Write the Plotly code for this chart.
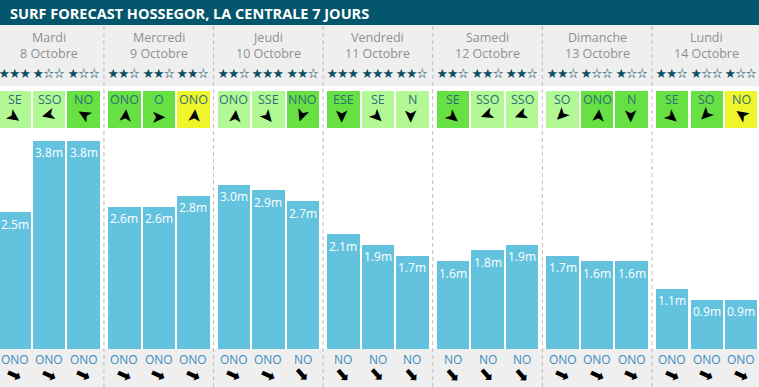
import plotly.graph_objects as go

# ---------------- data ----------------
days = ["Mardi", "Mercredi", "Jeudi", "Vendredi", "Samedi", "Dimanche", "Lundi"]
dates = ["8 Octobre", "9 Octobre", "10 Octobre", "11 Octobre", "12 Octobre", "13 Octobre", "14 Octobre"]
wave_height = [2.5, 3.8, 3.8, 2.6, 2.6, 2.8, 3.0, 2.9, 2.7, 2.1, 1.9, 1.7,
               1.6, 1.8, 1.9, 1.7, 1.6, 1.6, 1.1, 0.9, 0.9]
stars = [3, 1, 1, 2, 2, 2, 2, 3, 2, 3, 3, 2, 2, 2, 2, 2, 1, 1, 2, 1, 1]
wind_dir = ["SE", "SSO", "NO", "ONO", "O", "ONO", "ONO", "SSE", "NNO", "ESE", "SE", "N",
            "SE", "SSO", "SSO", "SO", "ONO", "N", "SE", "SO", "NO"]
wind_level = [0, 0, 1, 1, 1, 2, 0, 0, 1, 1, 0, 0, 1, 0, 0, 0, 1, 1, 1, 1, 2]
wind_arrow_deg = [35, 165, 210, 275, 0, 275, 275, 50, 110, 90, 45, 90,
                  40, 160, 160, 135, 275, 90, 40, 135, 215]
swell_dir = ["ONO", "ONO", "ONO", "ONO", "ONO", "ONO", "ONO", "ONO", "NO", "NO", "NO", "NO",
             "NO", "NO", "NO", "ONO", "ONO", "ONO", "ONO", "ONO", "ONO"]
swell_arrow_deg = {"ONO": 25, "NO": 48}
title = "SURF FORECAST HOSSEGOR, LA CENTRALE 7 JOURS"

# ---------------- styles ----------------
W, H = 759, 387
level_colors = ["#b2f996", "#66e042", "#eef52a"]
bar_color = "#63c3df"
teal = "#03566b"
gray_bg = "#efefef"

def py(px):  # pixel row -> paper fraction
    return (H - px) / H

step = 0.3148
bar_w = 0.2965
xs = []
for k in range(len(days)):
    for j in range(3):
        xs.append(k + (j - 1) * step)

fig = go.Figure()

fig.add_trace(go.Bar(
    x=xs, y=wave_height, width=bar_w, marker=dict(color=bar_color, line=dict(width=0)),
    xaxis="x", yaxis="y", hoverinfo="skip", showlegend=False))

fig.add_trace(go.Bar(
    x=xs, y=[1] * len(xs), width=bar_w,
    marker=dict(color=[level_colors[l] for l in wind_level], line=dict(width=0)),
    xaxis="x", yaxis="y2", hoverinfo="skip", showlegend=False))

shapes = [
    dict(type="rect", xref="paper", yref="paper", x0=0, x1=1, y0=py(25), y1=1,
         fillcolor=teal, line=dict(width=0), layer="below"),
    dict(type="rect", xref="paper", yref="paper", x0=0, x1=1, y0=py(86), y1=py(25),
         fillcolor=gray_bg, line=dict(width=0), layer="below"),
    dict(type="rect", xref="paper", yref="paper", x0=0, x1=1, y0=0, y1=py(349),
         fillcolor=gray_bg, line=dict(width=0), layer="below"),
]
for k in range(len(days) - 1):
    shapes.append(dict(type="line", xref="x", yref="paper", x0=k + 0.5, x1=k + 0.5,
                       y0=0, y1=py(25), line=dict(color="#bcbcbc", width=1, dash="4px,3px"),
                       layer="above"))

ann = []
ann.append(dict(text="<b>" + title + "</b>", xref="paper", yref="paper", x=0, y=py(13),
                xanchor="left", yanchor="middle", xshift=8, showarrow=False,
                font=dict(family="Open Sans", size=14.5, color="white")))
for k in range(len(days)):
    ann.append(dict(text=days[k], xref="x", yref="paper", x=k, y=py(38), showarrow=False,
                    xanchor="center", yanchor="middle",
                    font=dict(family="Open Sans", size=12.5, color="#8f8f8f")))
    ann.append(dict(text=dates[k], xref="x", yref="paper", x=k, y=py(53.5), showarrow=False,
                    xanchor="center", yanchor="middle",
                    font=dict(family="Open Sans", size=12.5, color="#8f8f8f")))

for i, x in enumerate(xs):
    s = "★" * stars[i] + "☆" * (3 - stars[i])
    ann.append(dict(text=s, xref="x", yref="paper", x=x, y=py(72), showarrow=False,
                    xanchor="center", yanchor="middle",
                    font=dict(family="Noto Sans CJK JP", size=10.5, color="#0b4d63")))
    ann.append(dict(text=wind_dir[i], xref="x", yref="paper", x=x, y=py(100), showarrow=False,
                    xanchor="center", yanchor="middle",
                    font=dict(family="Open Sans", size=12.5, color="#2e6f78")))
    ann.append(dict(text="➤", xref="x", yref="paper", x=x, y=py(116), showarrow=False,
                    xanchor="center", yanchor="middle", textangle=wind_arrow_deg[i],
                    font=dict(family="DejaVu Sans", size=18, color="black")))
    ann.append(dict(text=f"{wave_height[i]:.1f}m", xref="x", yref="y", x=x, y=wave_height[i],
                    showarrow=False, xanchor="center", yanchor="top", yshift=-1.5,
                    font=dict(family="Open Sans", size=12, color="white")))
    ann.append(dict(text=swell_dir[i], xref="x", yref="paper", x=x, y=py(359), showarrow=False,
                    xanchor="center", yanchor="middle",
                    font=dict(family="Open Sans", size=12, color="#3a8bbd")))
    ann.append(dict(text="➡", xref="x", yref="paper", x=x, y=py(374), showarrow=False,
                    xanchor="center", yanchor="middle", textangle=swell_arrow_deg[swell_dir[i]],
                    font=dict(family="DejaVu Sans", size=18, color="black")))

fig.update_layout(
    width=W, height=H, margin=dict(l=0, r=0, t=0, b=0, pad=0),
    paper_bgcolor="white", plot_bgcolor="rgba(0,0,0,0)",
    showlegend=False, bargap=0,
    xaxis=dict(range=[-0.4485, 6.4768], domain=[0, 1], visible=False, fixedrange=True),
    yaxis=dict(range=[0, 4.0], domain=[py(349), py(130)], visible=False, fixedrange=True),
    yaxis2=dict(range=[0, 1], domain=[py(128), py(91)], visible=False, fixedrange=True, anchor="x"),
    shapes=shapes, annotations=ann,
)

fig.write_html(
    "out.html",
    config={"displayModeBar": False},
    post_script="document.body.style.margin='0';document.body.style.overflow='hidden';"
                "document.documentElement.style.overflow='hidden';",
)
